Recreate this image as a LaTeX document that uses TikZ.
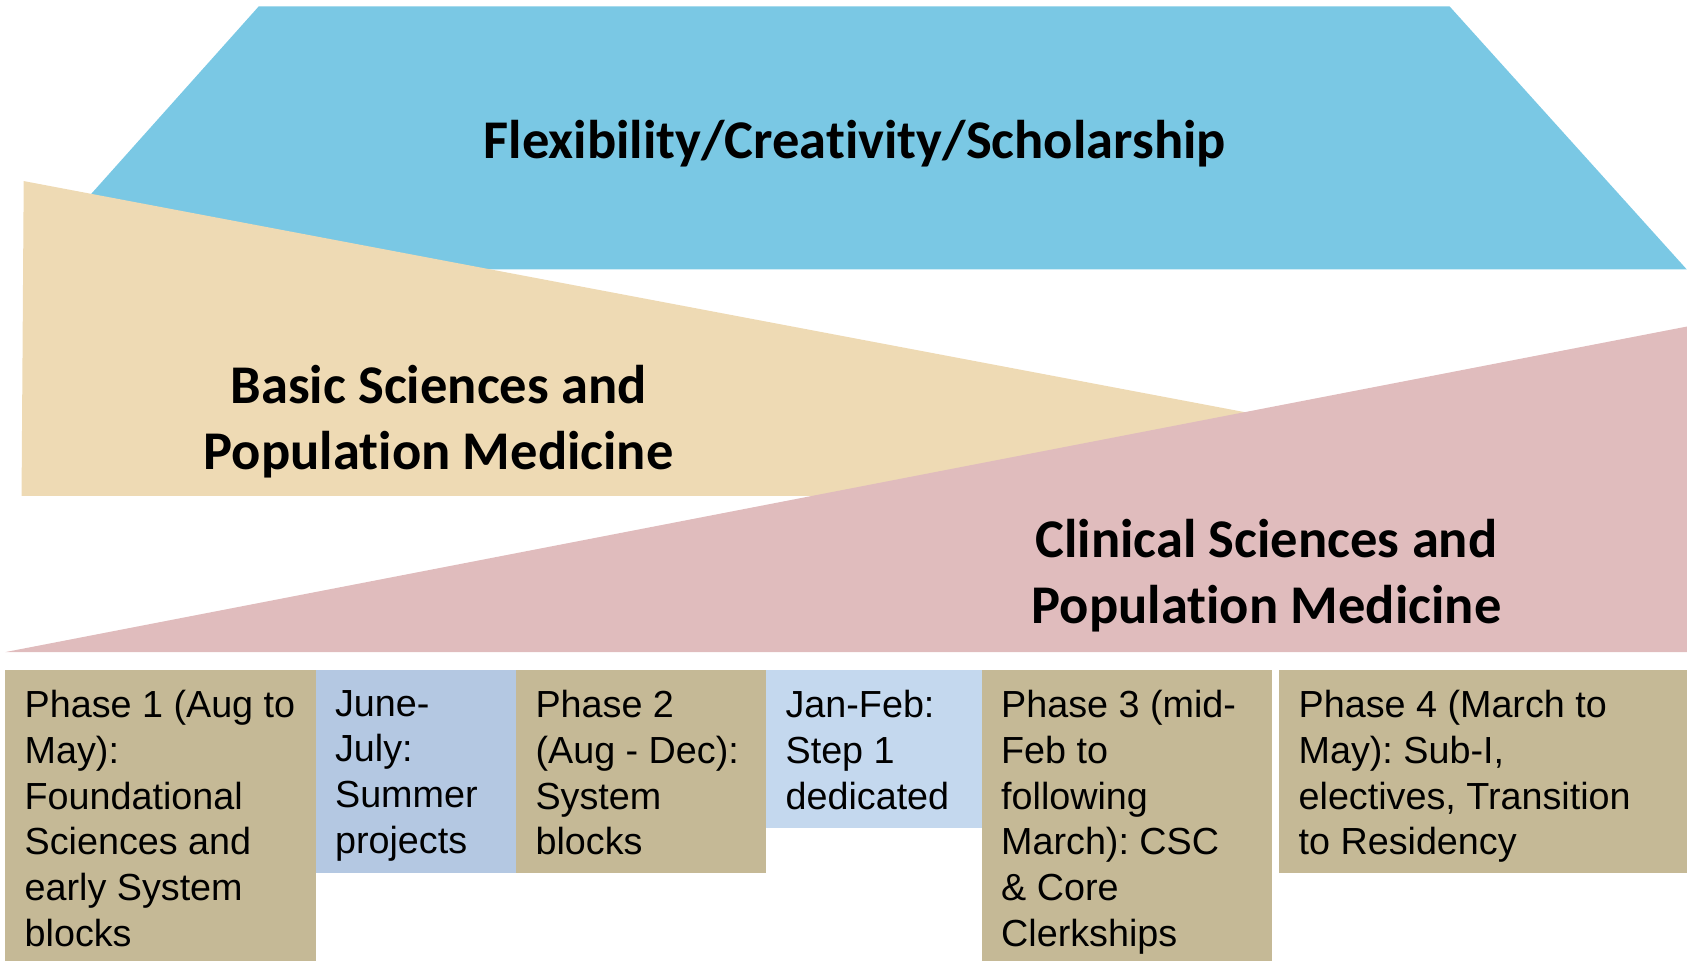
\documentclass[tikz,border=0pt]{standalone}
\usepackage{fontspec}
\setmainfont{Liberation Sans}
\newfontfamily\boldlab[Ligatures=NoCommon]{Carlito}
\frenchspacing
\definecolor{flexblue}{HTML}{7AC8E4}
\definecolor{basicbeige}{HTML}{EEDAB4}
\definecolor{clinpink}{HTML}{E0BCBD}
\definecolor{phasetan}{HTML}{C5B996}
\definecolor{summerblue}{HTML}{B4C8E2}
\definecolor{stepblue}{HTML}{C4D8EE}
\tikzset{
  biglabel/.style={font=\boldlab\bfseries\fontsize{25.3}{30.5}\selectfont, align=center, inner sep=0pt, text=black},
  phasetext/.style={font=\fontsize{17.5}{21.25}\selectfont, align=left, inner sep=0pt, anchor=north west, text=black},
}
\begin{document}
\begin{tikzpicture}[x=0.5pt,y=-0.5pt]
\useasboundingbox (0,0) rectangle (1568,892);
% bands
\fill[flexblue] (240,6) -- (1345,6) -- (1565,250) -- (22,250) -- cycle;
\fill[basicbeige] (22,168) -- (1565,460) -- (20,460) -- cycle;
\fill[clinpink] (5,605) -- (1565,303) -- (1565,605) -- cycle;
\node[biglabel] (flex) at (793,133) {Flexibility/Creativity/Scholarship};
\node[biglabel] (basic) at (407,391) {Basic Sciences and\\Population Medicine};
\node[biglabel] (clin) at (1175,534) {Clinical Sciences and\\Population Medicine};
% phase boxes
\fill[phasetan] (5,622) rectangle (293,892);
\fill[summerblue] (293,622) rectangle (479,810);
\fill[phasetan] (479,622) rectangle (711,810);
\fill[stepblue] (711,622) rectangle (911,768);
\fill[phasetan] (911,622) rectangle (1180,892);
\fill[phasetan] (1187,622) rectangle (1565,810);
\node[phasetext] (p1) at (22.5,640) {Phase 1 (Aug to\\May):\\Foundational\\Sciences and\\early System\\blocks};
\node[phasetext] (summer) at (310.5,640) {June-\\July:\\Summer\\projects};
\node[phasetext] (p2) at (496.5,640) {Phase 2\\(Aug - Dec):\\System\\blocks};
\node[phasetext] (step) at (728.5,640) {Jan-Feb:\\Step 1\\dedicated};
\node[phasetext] (p3) at (928.5,640) {Phase 3 (mid-\\Feb to\\following\\March): CSC\\\& Core\\Clerkships};
\node[phasetext] (p4) at (1204.5,640) {Phase 4 (March to\\May): Sub-I,\\electives, Transition\\to Residency};
\end{tikzpicture}
\end{document}
